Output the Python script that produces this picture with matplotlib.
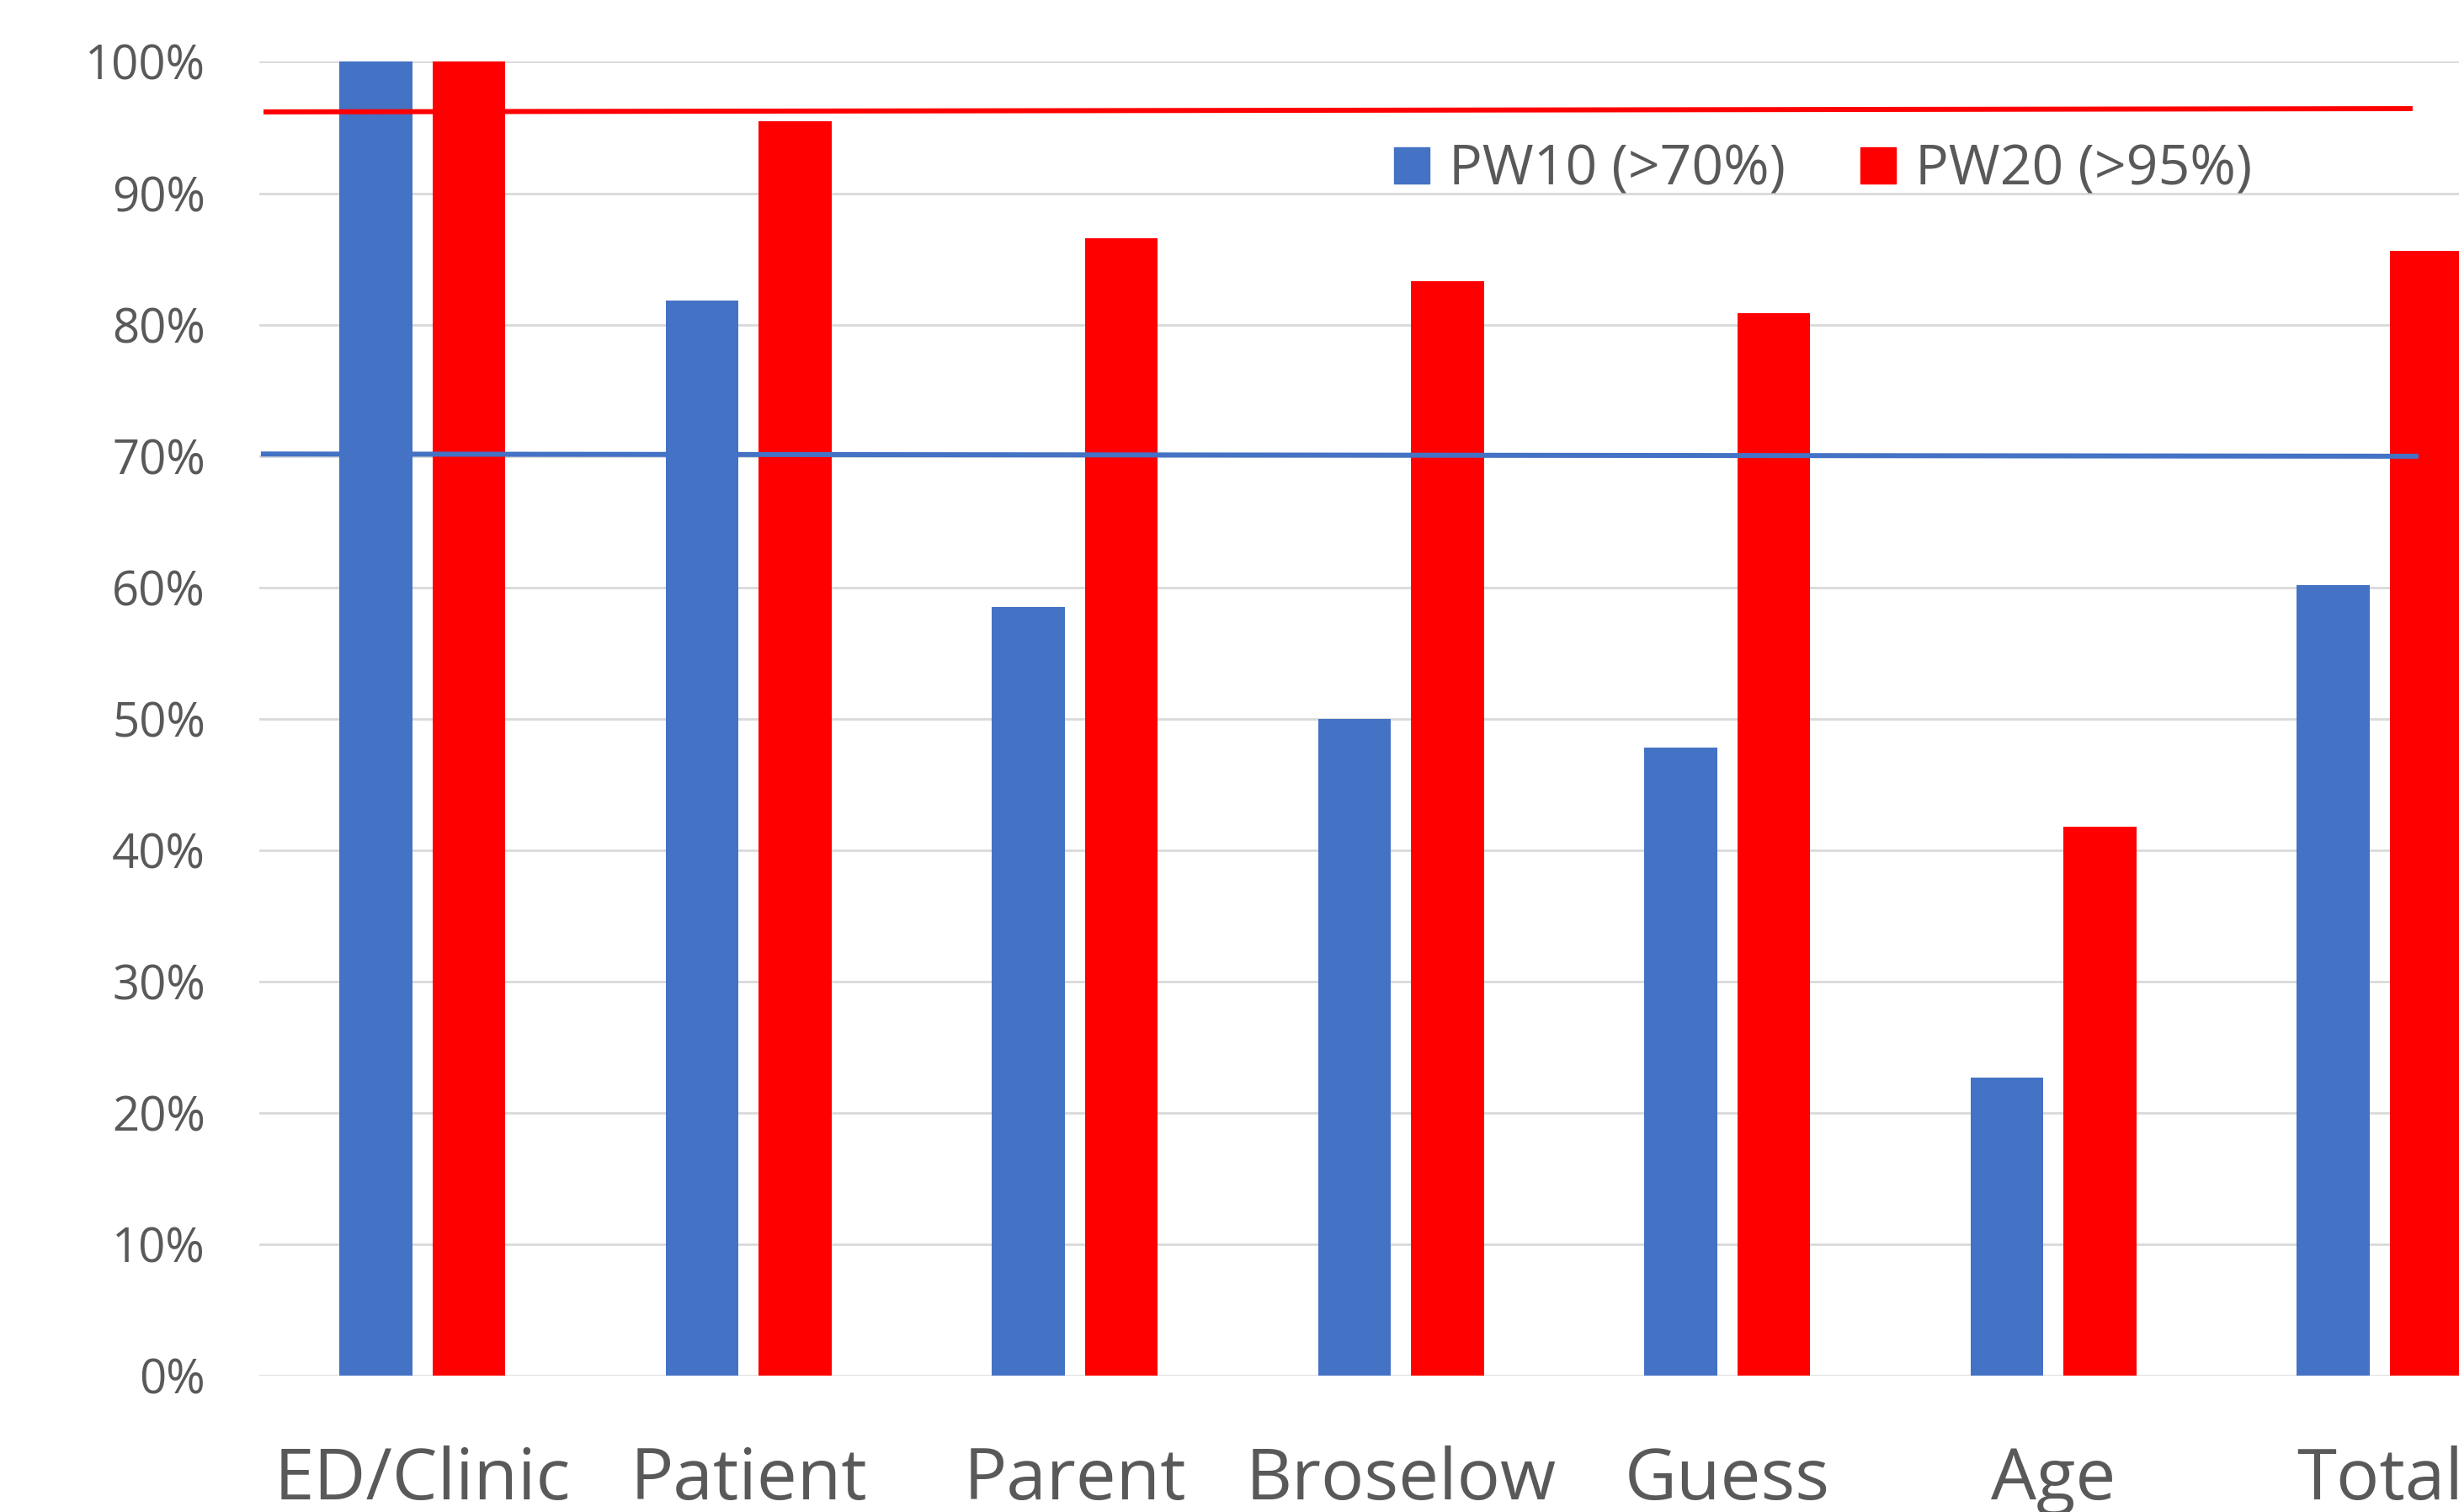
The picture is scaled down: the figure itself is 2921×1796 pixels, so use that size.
import matplotlib
matplotlib.use("Agg")
import matplotlib.pyplot as plt
import matplotlib.patches as mpatches
import numpy as np

plt.rcParams['font.family'] = ['Open Sans', 'DejaVu Sans']

categories = ["ED/Clinic", "Patient", "Parent", "Broselow", "Guess", "Age", "Total"]
pw10 = [1.000, 0.818, 0.585, 0.500, 0.478, 0.227, 0.602]
pw20 = [1.000, 0.955, 0.866, 0.833, 0.809, 0.418, 0.856]

# target lines (start / end x in category units, start / end y)
pw10_line_x = [-0.495, 6.119]
pw10_line_y = [0.7015, 0.6998]
pw20_line_x = [-0.487, 6.101]
pw20_line_y = [0.9619, 0.9644]

yticks = [0, 0.1, 0.2, 0.3, 0.4, 0.5, 0.6, 0.7, 0.8, 0.9, 1.0]
ytick_labels = ["0%", "10%", "20%", "30%", "40%", "50%", "60%", "70%", "80%", "90%", "100%"]

BLUE = "#4472C4"
RED = "#FF0000"
GREY = "#595959"

fig = plt.figure(figsize=(29.21, 17.96), dpi=100)
ax = fig.add_axes([0.10544, 0.0902, 0.92862, 0.8689])

x = np.arange(len(categories))
w = 0.224
off = 0.1427
ax.bar(x - off, pw10, width=w, color=BLUE, zorder=2)
ax.bar(x + off, pw20, width=w, color=RED, zorder=2)

ax.plot(pw20_line_x, pw20_line_y, color=RED, lw=4.3, solid_capstyle='butt', zorder=3)
ax.plot(pw10_line_x, pw10_line_y, color=BLUE, lw=4.3, solid_capstyle='butt', zorder=3)

ax.set_xlim(-0.5, 6.5)
ax.set_ylim(0, 1.0)
ax.set_yticks(yticks)
ax.set_yticklabels(ytick_labels)
ax.set_xticks(x)
ax.set_xticklabels(categories)
ax.grid(axis='y', color='#d9d9d9', lw=2, zorder=0)
ax.set_axisbelow(True)
for s in ax.spines.values():
    s.set_visible(False)
ax.tick_params(axis='y', length=0, pad=46, labelsize=40.5, labelcolor=GREY)
ax.tick_params(axis='x', length=0, pad=60, labelsize=61.5, labelcolor=GREY)

handles = [mpatches.Patch(color=BLUE, label="PW10 (>70%)"),
           mpatches.Patch(color=RED, label="PW20 (>95%)")]
fig.legend(handles=handles, loc='center left',
           bbox_to_anchor=(1656 / 2921, 1 - 203 / 1796),
           ncol=2, frameon=False, fontsize=47.5, labelcolor=GREY,
           handlelength=0.63, handleheight=0.63, handletextpad=0.35,
           columnspacing=1.36, borderpad=0, borderaxespad=0)

fig.savefig("out.png", dpi=100)
